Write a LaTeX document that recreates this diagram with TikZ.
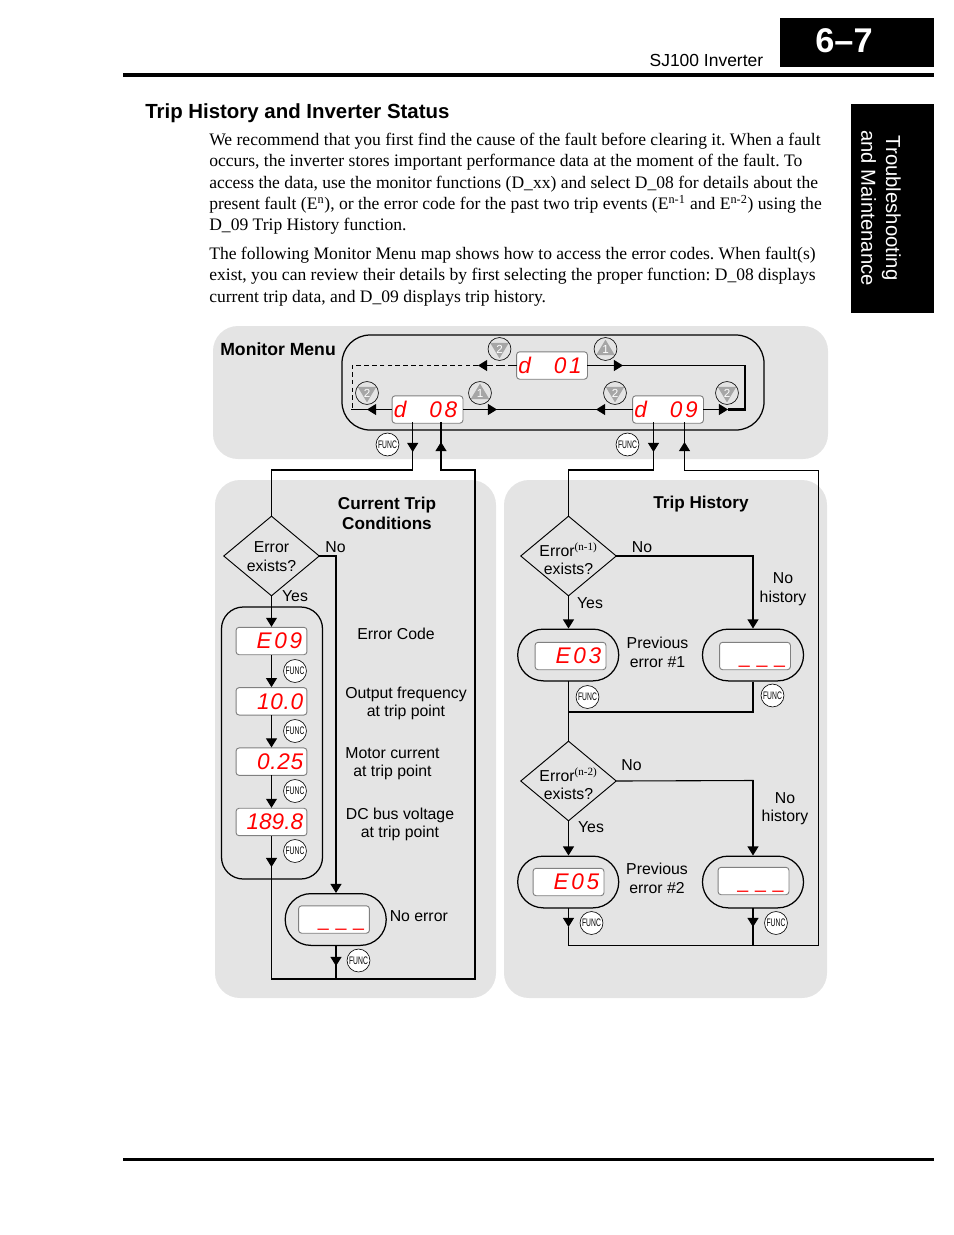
\documentclass[tikz,border=0pt]{standalone}
\usepackage{fontspec}
\usepackage{graphicx}
\setmainfont{Liberation Serif}
\setsansfont{Liberation Sans}
\newfontfamily\segfont[LetterSpace=12]{Liberation Sans}
\newfontfamily\segmid[LetterSpace=3]{Liberation Sans}
\newfontfamily\segtight{Liberation Sans}
\usetikzlibrary{arrows.meta,shapes.geometric}
\definecolor{panelgray}{HTML}{E4E4E4}
\definecolor{keygray}{HTML}{A6A6A6}
\definecolor{framegray}{HTML}{808080}
\tikzstyle{panel}=[fill=panelgray,rounded corners=16pt]
\tikzstyle{flow}=[-{Triangle[length=5.8pt,width=7pt]}]
\tikzstyle{wire}=[line width=0.7pt,line cap=rect]
\tikzstyle{lab}=[font=\sffamily\fontsize{10.15}{11.8}\selectfont,align=center,inner sep=0pt]
\tikzstyle{title}=[font=\sffamily\bfseries\fontsize{11}{12.8}\selectfont,align=center,inner sep=0pt]
\tikzstyle{display}=[draw=framegray,fill=white,line width=0.6pt,rounded corners=2pt,minimum width=45.5pt,minimum height=17.6pt,text width=43pt,inner sep=0pt,align=flush right,text=red,font=\segfont\itshape\fontsize{14.5}{14.5}\selectfont]
\tikzstyle{number}=[font=\segmid\itshape\fontsize{14.5}{14.5}\selectfont]
\tikzstyle{blank}=[font=\segtight\fontsize{12.5}{12.5}\selectfont,text height=9pt,text depth=0pt]
\tikzstyle{func}=[circle,draw=black,fill=white,line width=0.4pt,minimum size=14.7pt,inner sep=0pt,font=\sffamily\fontsize{7}{7}\selectfont]
\tikzstyle{keybase}=[circle,draw=black,line width=0.4pt,minimum size=14.7pt,inner sep=0pt,text=white,font=\sffamily\fontsize{7.5}{7.5}\selectfont]
\tikzstyle{keyup}=[keybase,path picture={\fill[keygray] ([yshift=6pt]path picture bounding box.center) -- ([shift={(-6pt,-4pt)}]path picture bounding box.center) -- ([shift={(6pt,-4pt)}]path picture bounding box.center) -- cycle;}]
\tikzstyle{keydown}=[keybase,path picture={\fill[keygray] ([yshift=-6pt]path picture bounding box.center) -- ([shift={(-6pt,4pt)}]path picture bounding box.center) -- ([shift={(6pt,4pt)}]path picture bounding box.center) -- cycle;}]
\tikzstyle{pill}=[draw=black,line width=0.8pt,minimum width=64.8pt,minimum height=33.2pt,rounded corners=16.5pt]
\tikzstyle{decision}=[diamond,draw=black,line width=0.6pt,minimum width=61.5pt,minimum height=51.3pt,inner sep=0pt]
\newcommand{\funclabel}{\scalebox{0.62}[1]{FUNC}}
\newcommand{\dashes}{\_\kern4.4pt\_\kern4.4pt\_\kern2.2pt}
\begin{document}
\begin{tikzpicture}[x=0.6415pt,y=-0.6415pt,node distance=38.7pt]
  \useasboundingbox (0,0) rectangle (954,1235);
  \fill[black] (780,18) rectangle (934,67);
  \node[text=white,font=\sffamily\bfseries\fontsize{22}{22}\selectfont] (page) at (844,41) {6--7};
  \node[anchor=east,inner sep=0pt,font=\sffamily\fontsize{11.2}{12}\selectfont] (head) at (763.5,60) {SJ100 Inverter};
  \draw[line width=2pt] (123,75) -- (934,75);
  \draw[line width=2pt] (123,1159.5) -- (934,1159.5);
  \fill[black] (851,104) rectangle (934,313);
  \node[rotate=-90,text=white,align=center,inner sep=0pt,font=\sffamily\fontsize{13}{16}\selectfont] (tab) at (881,208) {Troubleshooting\\and Maintenance};
  \node[anchor=west,inner sep=0pt,font=\sffamily\bfseries\fontsize{13.1}{15}\selectfont] (sect) at (145,113) {Trip History and Inverter Status};
  \node[anchor=north west,inner sep=0pt,align=left,font=\rmfamily\frenchspacing\fontsize{11.26}{13.6}\selectfont] (para1) at (209,133) {We recommend that you first find the cause of the fault before clearing it. When a fault\\
occurs, the inverter stores important performance data at the moment of the fault. To\\
access the data, use the monitor functions (D\_xx) and select D\_08 for details about the\\
present fault (E\textsuperscript{n}), or the error code for the past two trip events (E\textsuperscript{n-1} and E\textsuperscript{n-2}) using the\\
D\_09 Trip History function.};
  \node[anchor=north west,inner sep=0pt,align=left,font=\rmfamily\frenchspacing\fontsize{11.26}{13.6}\selectfont] (para2) at (209,247) {The following Monitor Menu map shows how to access the error codes. When fault(s)\\
exist, you can review their details by first selecting the proper function: D\_08 displays\\
current trip data, and D\_09 displays trip history.};

  \fill[panel] (213,326) rectangle (828,459);
  \fill[panel] (215,480) rectangle (496,998);
  \fill[panel] (504,480) rectangle (827,998);

  % monitor menu
  \node[title,anchor=west,font=\sffamily\bfseries\fontsize{11.3}{12.8}\selectfont] (menu) at (220,349) {Monitor Menu};
  \draw[line width=0.8pt,rounded corners=18pt] (342,335) rectangle (764,430);
  \node[display] (d01) at (552,365.5) {d\hfill 01\kern2.4pt};
  \node[display] (d08) at (427.5,409.5) {d\hfill 08\kern2.4pt};
  \node[display] (d09) at (668,409.5) {d\hfill 09\kern2.4pt};
  \node[keydown] (k1) at (499.5,349) {2};
  \node[keyup] (k2) at (605.5,349) {1};
  \node[keydown] (k3) at (367,393) {2};
  \node[keyup] (k4) at (480,393) {1};
  \node[keydown] (k5) at (615,393) {2};
  \node[keydown] (k6) at (727,393) {2};
  \node[func] (f1) at (387.5,444.5) {\funclabel};
  \node[func] (f2) at (627.5,444.5) {\funclabel};
  \coordinate (a1) at (623,365.5);
  \coordinate (a2) at (745,365.5);
  \coordinate (a3) at (745,409.5);
  \coordinate (a4) at (728,409.5);
  \coordinate (a5) at (478,365.5);
  \coordinate (a6) at (352,365.5);
  \coordinate (a7) at (352,409.5);
  \coordinate (a8) at (367,409.5);
  \coordinate (a9) at (497,409.5);
  \coordinate (a10) at (596,409.5);
  \draw[wire,flow] (d01) -- (a1);
  \draw[wire] (a1) -- (a2);
  \draw[line width=1.4pt] (a2) -- (a3) -- (a4);
  \draw[wire,flow] (d09) -- (a4);
  \draw[wire,flow,dashed,dash pattern=on 5pt off 2.5pt] (d01) -- (a5);
  \draw[line width=0.6pt,dash pattern=on 3pt off 2pt] (a5) -- (a6) -- (a7);
  \draw[wire] (a7) -- (a8);
  \draw[wire,flow] (d08) -- (a8);
  \draw[wire,flow] (d08) -- (a9);
  \draw[wire,flow] (d09) -- (a10);
  \draw[wire] (a9) -- (a10);

  % current trip
  \node[title] (cur) at (387,513) {Current Trip\\Conditions};
  \node[decision] (dec) at (271.5,556) {};
  \node[lab] (declab) at (271.5,556.5) {Error\\exists?};
  \node[lab] (no0) at (335.5,547) {No};
  \node[lab] (yes0) at (295,596) {Yes};
  \node[draw=black,line width=0.8pt,rounded corners=14pt,minimum width=64.8pt,minimum height=174.5pt] (stack) at (272,743) {};
  \node[display] (e09) at (271.5,641) {E09\kern1.8pt};
  \node[display,number,below of=e09] (v10) {10.0\kern1.2pt};
  \node[display,number,below of=v10] (v025) {0.25\kern1.2pt};
  \node[display,below of=v025,font=\segtight\itshape\fontsize{14.5}{14.5}\selectfont] (v189) {189.8\kern1.2pt};
  \node[func] (f3) at (295,671) {\funclabel};
  \node[func] (f4) at (295,731) {\funclabel};
  \node[func] (f5) at (295,791) {\funclabel};
  \node[func] (f6) at (295,851) {\funclabel};
  \node[lab] (l1) at (396,634) {Error Code};
  \node[lab] (l2) at (406,703.5) {Output frequency\\at trip point};
  \node[lab] (l3) at (392.5,763.5) {Motor current\\at trip point};
  \node[lab] (l4) at (400,824.5) {DC bus voltage\\at trip point};
  \node[pill] (none) at (335.7,919.5) {};
  \node[display,blank] (nonedisp) at (334,919.5) {\dashes};
  \node[lab,anchor=west] (l5) at (389.5,916) {No error};
  \node[func] (f7) at (358.5,960.5) {\funclabel};
  \coordinate (b1) at (412.7,423);
  \coordinate (b2) at (412.7,452);
  \coordinate (b3) at (412.7,470);
  \coordinate (b4) at (271.5,470);
  \coordinate (b5) at (441,423);
  \coordinate (b6) at (441,442);
  \coordinate (b7) at (441,470);
  \coordinate (b8) at (475,470);
  \coordinate (b9) at (475,979);
  \coordinate (b10) at (271.5,979);
  \coordinate (b11) at (336,556);
  \coordinate (b12) at (271.5,867);
  \coordinate (b13) at (336,966);
  \coordinate (b14) at (336,979);
  \draw[wire,flow] (b1) -- (b2);
  \draw[wire] (b2) -- (b3) -- (b4) -- (dec.north);
  \draw[wire,flow] (b7) -- (b6);
  \draw[wire] (b6) -- (b5);
  \draw[wire] (b7) -- (b8) -- (b9) -- (b10) -- (b12);
  \draw[wire,flow] (v189) -- (b12);
  \draw[wire] (dec.east) -- (b11);
  \draw[wire,flow] (b11) -- (none.north -| b11);
  \draw[wire,flow] (none.south -| b13) -- (b13);
  \draw[wire] (b13) -- (b14);
  \path[wire,flow] (dec.south) edge (e09)
        (e09) edge (v10)
        (v10) edge (v025)
        (v025) edge (v189);

  % trip history
  \node[title] (hist) at (701,504.5) {Trip History};
  \node[decision] (dec1) at (568.5,556) {};
  \node[lab] (dec1lab) at (568.5,559) {Error\textsuperscript{\rmfamily (n-1)}\\exists?};
  \node[lab] (no1) at (642,547) {No};
  \node[lab] (yes1) at (590,603) {Yes};
  \node[lab] (hist1) at (783,589) {No\\history};
  \node[pill] (p03) at (568.2,655) {};
  \node[display] (e03) at (570.5,656) {E03\kern1.8pt};
  \node[pill] (q03) at (753,655) {};
  \node[display,blank] (q03disp) at (755,656) {\dashes};
  \node[lab] (prev1) at (657.5,652.5) {Previous\\error \#1};
  \node[func] (f8) at (587.5,697) {\funclabel};
  \node[func] (f9) at (772.5,695.5) {\funclabel};
  \node[decision] (dec2) at (568.5,781) {};
  \node[lab] (dec2lab) at (568.5,784) {Error\textsuperscript{\rmfamily (n-2)}\\exists?};
  \node[lab] (no2) at (631.5,765) {No};
  \node[lab] (yes2) at (591,827) {Yes};
  \node[lab] (hist2) at (785,808.5) {No\\history};
  \node[pill] (p05) at (568.2,882) {};
  \node[display] (e05) at (568.5,882) {E05\kern1.8pt};
  \node[pill] (q05) at (753,882) {};
  \node[display,blank] (q05disp) at (753.5,881) {\dashes};
  \node[lab] (prev2) at (657,878.5) {Previous\\error \#2};
  \node[func] (f10) at (591.5,923) {\funclabel};
  \node[func] (f11) at (776,923) {\funclabel};
  \coordinate (c1) at (653.5,423);
  \coordinate (c2) at (653.5,452);
  \coordinate (c3) at (653.5,470);
  \coordinate (c4) at (568.5,470);
  \coordinate (c5) at (684.5,423);
  \coordinate (c6) at (684.5,442);
  \coordinate (c7) at (684.5,470);
  \coordinate (c8) at (818,470);
  \coordinate (c9) at (818,945);
  \coordinate (c10) at (568.5,945);
  \coordinate (c11) at (753,556);
  \coordinate (c12) at (753,711.7);
  \coordinate (c13) at (568.5,711.7);
  \coordinate (c14) at (753,780.5);
  \coordinate (c15) at (568.5,927);
  \coordinate (c16) at (753,927);
  \coordinate (c17) at (753,945);
  \draw[wire,flow] (c1) -- (c2);
  \draw[wire] (c2) -- (c3) -- (c4) -- (dec1.north);
  \draw[wire,flow] (c7) -- (c6);
  \draw[wire] (c6) -- (c5);
  \draw[line width=0.45pt] (c7) -- (c8) -- (c9) -- (c10) -- (c15);
  \draw[wire] (dec1.east) -- (c11);
  \draw[wire,flow] (c11) -- (q03.north);
  \draw[wire,flow] (dec1.south) -- (p03.north -| dec1.south);
  \draw[wire] (p03.south -| c13) -- (dec2.north);
  \draw[line width=1.2pt] (q03.south) -- (c12) -- (c13);
  \draw[wire] (dec2.east) -- (c14);
  \draw[wire,flow] (c14) -- (q05.north);
  \draw[wire,flow] (dec2.south) -- (p05.north -| dec2.south);
  \draw[wire,flow] (p05.south -| c15) -- (c15);
  \draw[wire,flow] (q05.south) -- (c16);
  \draw[wire] (c16) -- (c17);
\end{tikzpicture}
\end{document}
